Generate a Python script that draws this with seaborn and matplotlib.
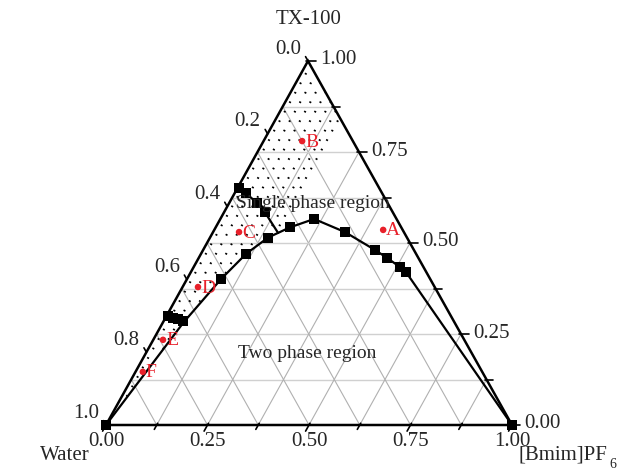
import numpy as np
import pandas as pd
import matplotlib
matplotlib.use("Agg")
import matplotlib.pyplot as plt
from matplotlib.patches import Polygon
import seaborn as sns

# ---------------- data (fractions: p = [Bmim]PF6, t = TX-100) ----------------
binodal_p = [0.0, 0.051, 0.084, 0.111, 0.143, 0.183, 0.231, 0.325, 0.423, 0.464, 0.508, 0.530, 1.0]
binodal_t = [0.0, 0.283, 0.401, 0.470, 0.515, 0.543, 0.566, 0.530, 0.481, 0.459, 0.434, 0.420, 0.0]
binodal_sq_p = [0.0, 0.084, 0.111, 0.143, 0.183, 0.231, 0.325, 0.423, 0.464, 0.508, 0.530, 1.0]
binodal_sq_t = [0.0, 0.401, 0.470, 0.515, 0.543, 0.566, 0.530, 0.481, 0.459, 0.434, 0.420, 0.0]

upper_line_p = [0.0, 0.028, 0.068, 0.100, 0.161]
upper_line_t = [0.654, 0.637, 0.610, 0.585, 0.528]
upper_sq_p = [0.002, 0.028, 0.068, 0.100]
upper_sq_t = [0.652, 0.637, 0.610, 0.585]

lower_line_p = [0.0, 0.004, 0.019, 0.033, 0.047, 0.051]
lower_line_t = [0.302, 0.299, 0.294, 0.291, 0.286, 0.283]
lower_sq_p = [0.004, 0.019, 0.033, 0.047]
lower_sq_t = [0.299, 0.294, 0.291, 0.286]

pt_names = ["A", "B", "C", "D", "E", "F"]
pt_p = [0.416, 0.095, 0.064, 0.038, 0.024, 0.018]
pt_t = [0.536, 0.780, 0.530, 0.379, 0.234, 0.146]

dotted_p = [0.012, 0.037, 0.062, 0.087, 0.112, 0.137, 0.155]

bottom_ticks = [0.0, 0.25, 0.50, 0.75, 1.00]
bottom_labels = ["0.00", "0.25", "0.50", "0.75", "1.00"]
right_ticks = [0.0, 0.25, 0.50, 0.75, 1.00]
right_labels = ["0.00", "0.25", "0.50", "0.75", "1.00"]
left_ticks = [0.0, 0.2, 0.4, 0.6, 0.8, 1.0]
left_labels = ["0.0", "0.2", "0.4", "0.6", "0.8", "1.0"]

# ---------------- geometry (figure pixels) ----------------
X0, Y0 = 106.0, 425.0      # Water corner
WB = 406.0                 # bottom side width
DXT, HT = 202.0, 364.0     # top vertex offset


def tp(p, t):
    p = np.asarray(p, float)
    t = np.asarray(t, float)
    return X0 + WB * p + DXT * t, Y0 - HT * t


sns.set_theme(style="white")
plt.rcParams["font.family"] = ["Liberation Serif", "DejaVu Serif"]

fig = plt.figure(figsize=(6.24, 4.71), dpi=100)
ax = fig.add_axes([0, 0, 1, 1])
ax.set_xlim(0, 624)
ax.set_ylim(471, 0)
ax.axis("off")

# ---------------- grid ----------------
steps = np.arange(1, 8) / 8.0
for s in steps:
    xa, ya = tp([0, 1 - s], [s, s])
    ax.plot(xa, ya, color="#d0d0d0", lw=1.0, zorder=1)
    xa, ya = tp([s, s], [0, 1 - s])
    ax.plot(xa, ya, color="#b0b0b0", lw=0.8, zorder=1)
    xa, ya = tp([1 - s, 0], [0, 1 - s])
    ax.plot(xa, ya, color="#b0b0b0", lw=0.8, zorder=1)

# ---------------- dotted single phase area ----------------
poly_p = [0.0, 0.0] + binodal_p[1:5] + [0.161, 0.161]
poly_t = [1.0, 0.0] + binodal_t[1:5] + [0.528, 0.839]
px, py = tp(poly_p, poly_t)
clip = Polygon(np.column_stack([px, py]), closed=True, fill=False, lw=0, transform=ax.transData)
ax.add_patch(clip)
for dp in dotted_p:
    xa, ya = tp([dp, dp], [0, 1 - dp])
    ln, = ax.plot(xa, ya, color="black", lw=1.5, ls=(0, (0.8, 4.4)), zorder=2)
    ln.set_clip_path(clip)

# ---------------- triangle frame ----------------
fx, fy = tp([0, 1, 0, 0], [0, 0, 1, 0])
ax.plot(fx, fy, color="black", lw=1.8, zorder=3, solid_joinstyle="miter")

# ticks
ldir = np.array([-DXT, HT]) / np.hypot(DXT, HT)
rdir = np.array([-(WB - DXT), -HT]) / np.hypot(WB - DXT, HT)
for k in range(9):
    s = k / 8.0
    major = (k % 2 == 0)
    L = 7 if major else 5
    bx, by = tp(s, 0)
    ax.plot([bx - ldir[0] * 2, bx + ldir[0] * L], [by - ldir[1] * 2, by + ldir[1] * L],
            color="black", lw=1.2, zorder=3)
    rx, ry = tp(1 - s, s)
    ax.plot([rx - 2, rx + L + 1], [ry, ry], color="black", lw=1.2, zorder=3)
for w in left_ticks:
    lx, ly = tp(0, 1 - w)
    ax.plot([lx, lx + rdir[0] * 5], [ly, ly + rdir[1] * 5], color="black", lw=1.2, zorder=3)

fs = 15
for v, lab in zip(bottom_ticks, bottom_labels):
    x, y = tp(v, 0)
    ax.text(x, y + 16, lab, ha="center", va="center", fontsize=fs)
for v, lab in zip(right_ticks, right_labels):
    x, y = tp(1 - v, v)
    ax.text(x + 12, y - 1, lab, ha="left", va="center", fontsize=fs)
for v, lab in zip(left_ticks, left_labels):
    x, y = tp(0, 1 - v)
    ax.text(x - 7, y - 12, lab, ha="right", va="center", fontsize=fs)

ax.text(309, 19, "TX-100", ha="center", va="center", fontsize=fs)
ax.text(40, 455, "Water", ha="left", va="center", fontsize=fs)
ax.text(519, 455, "[Bmim]PF", ha="left", va="center", fontsize=fs)
ax.text(609, 465, "6", ha="left", va="center", fontsize=10)

# ---------------- curves (seaborn) ----------------
def frame(pl, tl):
    x, y = tp(pl, tl)
    return pd.DataFrame({"x": x, "y": y})

for (lp, lt) in [(binodal_p, binodal_t), (upper_line_p, upper_line_t), (lower_line_p, lower_line_t)]:
    sns.lineplot(data=frame(lp, lt), x="x", y="y", sort=False, estimator=None,
                 color="black", lw=1.6, ax=ax, zorder=4)

for (sp, st) in [(binodal_sq_p, binodal_sq_t), (upper_sq_p, upper_sq_t), (lower_sq_p, lower_sq_t)]:
    sns.scatterplot(data=frame(sp, st), x="x", y="y", marker="s", s=46, color="black",
                    edgecolor="black", linewidth=0, ax=ax, zorder=5, legend=False)

dfp = frame(pt_p, pt_t)
sns.scatterplot(data=dfp, x="x", y="y", s=22, color="#e8202a", edgecolor="none",
                ax=ax, zorder=6, legend=False)
for name, (x, y) in zip(pt_names, dfp[["x", "y"]].values):
    ax.text(x + 3, y + 1, name, color="#e8202a", ha="left", va="center", fontsize=14, zorder=6)

ax.text(313, 204, "Single phase region", ha="center", va="center", fontsize=14, zorder=6)
ax.text(307, 354, "Two phase region", ha="center", va="center", fontsize=14, zorder=6)

ax.set_xlabel("")
ax.set_ylabel("")
ax.set_xlim(0, 624)
ax.set_ylim(471, 0)
fig.savefig("out.png", dpi=100)
